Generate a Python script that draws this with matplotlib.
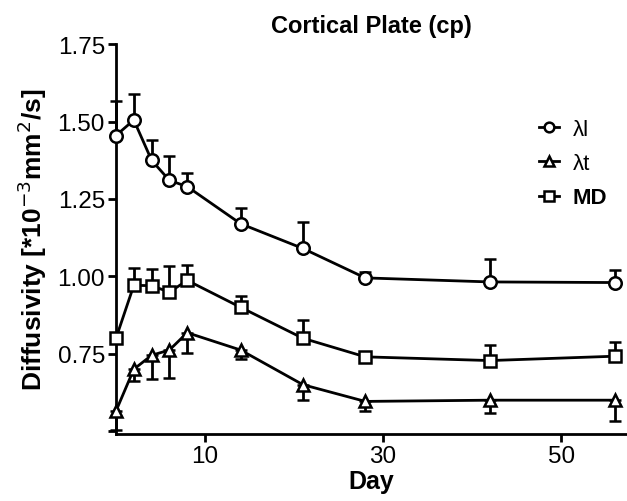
import matplotlib
matplotlib.use("Agg")
import matplotlib.pyplot as plt
from matplotlib.lines import Line2D

plt.rcParams["font.family"] = ["Liberation Sans", "DejaVu Sans"]

days = [0, 2, 4, 6, 8, 14, 21, 28, 42, 56]

lam_l = [1.455, 1.505, 1.375, 1.31, 1.29, 1.17, 1.09, 0.995, 0.982, 0.98]
lam_l_err = [0.11, 0.085, 0.065, 0.08, 0.045, 0.05, 0.085, 0.02, 0.075, 0.04]

lam_t = [0.565, 0.70, 0.745, 0.762, 0.818, 0.762, 0.65, 0.596, 0.60, 0.60]
lam_t_err = [0.06, 0.037, 0.075, 0.09, 0.067, 0.03, 0.05, 0.03, 0.04, 0.066]

md = [0.80, 0.971, 0.97, 0.949, 0.987, 0.90, 0.80, 0.74, 0.728, 0.742]
md_err = [0.0, 0.055, 0.055, 0.083, 0.05, 0.036, 0.058, 0.01, 0.05, 0.045]

zeros = [0.0] * len(days)

fig = plt.figure(figsize=(6.27, 5.02), dpi=100)
ax = fig.add_axes([0.185, 0.133, 0.815, 0.777])

common = dict(color="black", lw=2.0, ms=9, mew=1.8, mfc="white",
              elinewidth=2.0, capsize=4, capthick=2.0, clip_on=False, zorder=3)
ax.errorbar(days, lam_l, yerr=[zeros, lam_l_err], marker="o", **common)
ax.errorbar(days, lam_t, yerr=[lam_t_err, zeros], marker="^", **common)
ax.errorbar(days, md, yerr=[zeros, md_err], marker="s", **common)

ax.set_xlim(0, 57.4)
ax.set_ylim(0.49, 1.75)
ax.set_xticks([10, 30, 50])
ax.set_yticks([0.5, 0.75, 1.0, 1.25, 1.5, 1.75])
ax.set_yticklabels(["", "0.75", "1.00", "1.25", "1.50", "1.75"])
ax.tick_params(labelsize=17.5, width=2, length=6, direction="out", pad=2)
for s in ("top", "right"):
    ax.spines[s].set_visible(False)
for s in ("left", "bottom"):
    ax.spines[s].set_linewidth(2)

ax.set_xlabel("Day", fontsize=18, fontweight="bold", labelpad=1)
ax.set_ylabel("Diffusivity [*10$^{-3}$mm$^2$/s]", fontsize=19, fontweight="bold", labelpad=6)
ax.set_title("Cortical Plate (cp)", fontsize=17, fontweight="bold", pad=9)

handles = [
    Line2D([], [], color="black", lw=2, marker="o", ms=7, mew=1.8, mfc="white"),
    Line2D([], [], color="black", lw=2, marker="^", ms=7, mew=1.8, mfc="white"),
    Line2D([], [], color="black", lw=2, marker="s", ms=7, mew=1.8, mfc="white"),
]
leg = ax.legend(handles, ["λl", "λt", "MD"], loc="upper right",
                bbox_to_anchor=(1.0, 0.86), frameon=False, fontsize=16,
                handlelength=0.9, handletextpad=0.6, labelspacing=0.6)
leg.get_texts()[2].set_fontweight("bold")

fig.savefig("out.png", dpi=100)
